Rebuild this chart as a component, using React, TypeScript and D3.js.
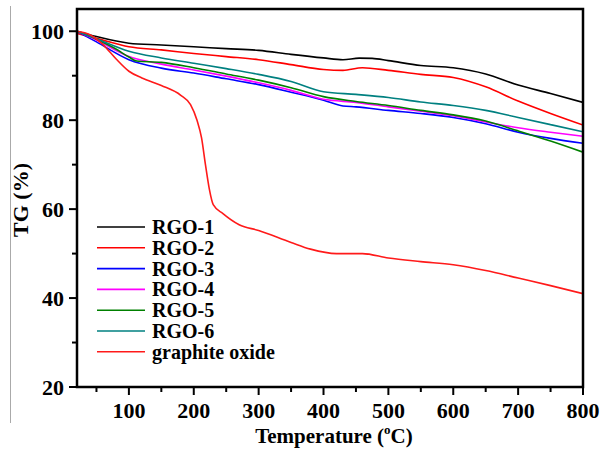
import React from 'react';
import * as d3 from 'd3';

// TGA curves: [temperature (°C), TG (%)]
const rgo1: [number, number][] = [
  [20, 100], [50, 98.8], [100, 97.3], [150, 96.9], [200, 96.5], [250, 96.1], [300, 95.7],
  [350, 94.8], [400, 94.0], [430, 93.6], [455, 93.95], [475, 93.9], [500, 93.4], [550, 92.3],
  [600, 91.8], [650, 90.4], [700, 87.9], [750, 86.0], [800, 84.0],
];
const rgo2: [number, number][] = [
  [20, 99.5], [50, 98.4], [100, 96.5], [150, 95.8], [200, 95.0], [250, 94.3], [300, 93.6],
  [350, 92.5], [400, 91.4], [430, 91.2], [460, 91.8], [500, 91.2], [550, 90.3], [600, 89.6],
  [650, 87.5], [700, 84.3], [750, 81.5], [800, 78.9],
];
const rgo3: [number, number][] = [
  [20, 100], [50, 97.6], [100, 93.6], [150, 91.7], [200, 90.6], [250, 89.3], [300, 88.0],
  [350, 86.3], [400, 84.5], [430, 83.2], [450, 83.0], [500, 82.2], [550, 81.5], [600, 80.6],
  [650, 79.2], [700, 77.3], [750, 75.9], [800, 74.8],
];
const rgo4: [number, number][] = [
  [20, 100], [50, 98.0], [100, 94.3], [150, 92.6], [200, 91.3], [250, 89.9], [300, 88.4],
  [350, 86.7], [400, 84.7], [450, 84.0], [500, 83.0], [550, 82.0], [600, 81.0], [650, 79.6],
  [700, 78.3], [750, 77.3], [800, 76.4],
];
const rgo5: [number, number][] = [
  [20, 100], [50, 98.2], [80, 96.0], [100, 94.2], [112, 93.3], [150, 93.0], [200, 91.8],
  [250, 90.4], [300, 89.0], [350, 87.3], [400, 85.3], [450, 84.2], [500, 83.3], [550, 82.2],
  [600, 81.2], [650, 79.8], [700, 77.6], [750, 75.3], [800, 72.8],
];
const rgo6: [number, number][] = [
  [20, 100], [50, 98.3], [100, 95.5], [150, 94.0], [200, 92.8], [250, 91.6], [300, 90.3],
  [350, 88.7], [400, 86.4], [450, 85.8], [500, 85.1], [550, 84.1], [600, 83.3], [650, 82.2],
  [700, 80.6], [750, 79.0], [800, 77.4],
];
const graphiteOxide: [number, number][] = [
  [20, 100], [40, 99.2], [60, 97.0], [80, 93.8], [100, 91.0], [120, 89.5], [150, 87.8],
  [180, 85.6], [195, 83.5], [205, 80.0], [212, 76.0], [218, 70.0], [224, 64.5], [230, 61.0],
  [245, 59.0], [270, 56.5], [300, 55.2], [350, 52.5], [380, 51.0], [420, 50.0], [460, 50.0],
  [500, 49.0], [550, 48.2], [600, 47.5], [650, 46.2], [700, 44.5], [750, 42.8], [800, 41.0],
];

const seriesNames = ['RGO-1', 'RGO-2', 'RGO-3', 'RGO-4', 'RGO-5', 'RGO-6', 'graphite oxide'];
const seriesData = [rgo1, rgo2, rgo3, rgo4, rgo5, rgo6, graphiteOxide];
const seriesColors = ['#000000', '#ff0000', '#0000ff', '#ff00ff', '#008000', '#008080', '#ff1a1a'];

const xTicks = [100, 200, 300, 400, 500, 600, 700, 800];
const xMinorTicks = [50, 150, 250, 350, 450, 550, 650, 750];
const yTicks = [20, 40, 60, 80, 100];
const yMinorTicks = [30, 50, 70, 90];

const W = 603;
const H = 450;
const left = 77;
const right = 583;
const top = 9;
const bottom = 387;
const font = "'Liberation Serif', 'DejaVu Serif', 'Times New Roman', serif";

export default function App() {
  const x = d3.scaleLinear().domain([20, 800]).range([left, right]);
  const y = d3.scaleLinear().domain([20, 105]).range([bottom, top]);
  const line = d3
    .line<[number, number]>()
    .x(d => x(d[0]))
    .y(d => y(d[1]))
    .curve(d3.curveMonotoneX);

  return (
    <svg
      width={W}
      height={H}
      style={{ position: 'absolute', left: 0, top: 0, background: '#fff', fontFamily: font, fontWeight: 'bold' }}
    >
      <line x1={10.5} x2={10.5} y1={6} y2={423} stroke="#aaa" strokeWidth={1} />

      <clipPath id="plot">
        <rect x={left} y={top} width={right - left} height={bottom - top} />
      </clipPath>
      <g clipPath="url(#plot)">
        {seriesData.map((d, i) => (
          <path key={seriesNames[i]} d={line(d) || ''} fill="none" stroke={seriesColors[i]} strokeWidth={1.6} />
        ))}
      </g>

      {/* frame */}
      <rect x={left} y={top} width={right - left} height={bottom - top} fill="none" stroke="#000" strokeWidth={2.5} />

      {/* y axis */}
      {yTicks.map(t => (
        <g key={'y' + t}>
          <line x1={left - 8} x2={left} y1={y(t)} y2={y(t)} stroke="#000" strokeWidth={2} />
          <text x={left - 13} y={y(t)} dy="0.35em" textAnchor="end" fontSize={22}>
            {t}
          </text>
        </g>
      ))}
      {yMinorTicks.map(t => (
        <line key={'ym' + t} x1={left - 5} x2={left} y1={y(t)} y2={y(t)} stroke="#000" strokeWidth={2} />
      ))}

      {/* x axis */}
      {xTicks.map(t => (
        <g key={'x' + t}>
          <line x1={x(t)} x2={x(t)} y1={bottom} y2={bottom + 8} stroke="#000" strokeWidth={2} />
          <text x={x(t)} y={418} textAnchor="middle" fontSize={22}>
            {t}
          </text>
        </g>
      ))}
      {xMinorTicks.map(t => (
        <line key={'xm' + t} x1={x(t)} x2={x(t)} y1={bottom} y2={bottom + 5} stroke="#000" strokeWidth={2} />
      ))}

      {/* axis titles */}
      <text x={334} y={443} textAnchor="middle" fontSize={21}>
        Temperature (<tspan fontSize={13} dy={-9}>o</tspan>
        <tspan dy={9}>C)</tspan>
      </text>
      <text transform="translate(28,200) rotate(-90)" textAnchor="middle" fontSize={22}>
        TG (%)
      </text>

      {/* legend */}
      {seriesNames.map((name, i) => {
        const ly = 227 + i * 20.8;
        return (
          <g key={'lg' + name}>
            <line x1={97} x2={145} y1={ly} y2={ly} stroke={seriesColors[i]} strokeWidth={1.6} />
            <text x={152} y={ly} dy="0.35em" fontSize={20}>
              {name}
            </text>
          </g>
        );
      })}
    </svg>
  );
}
